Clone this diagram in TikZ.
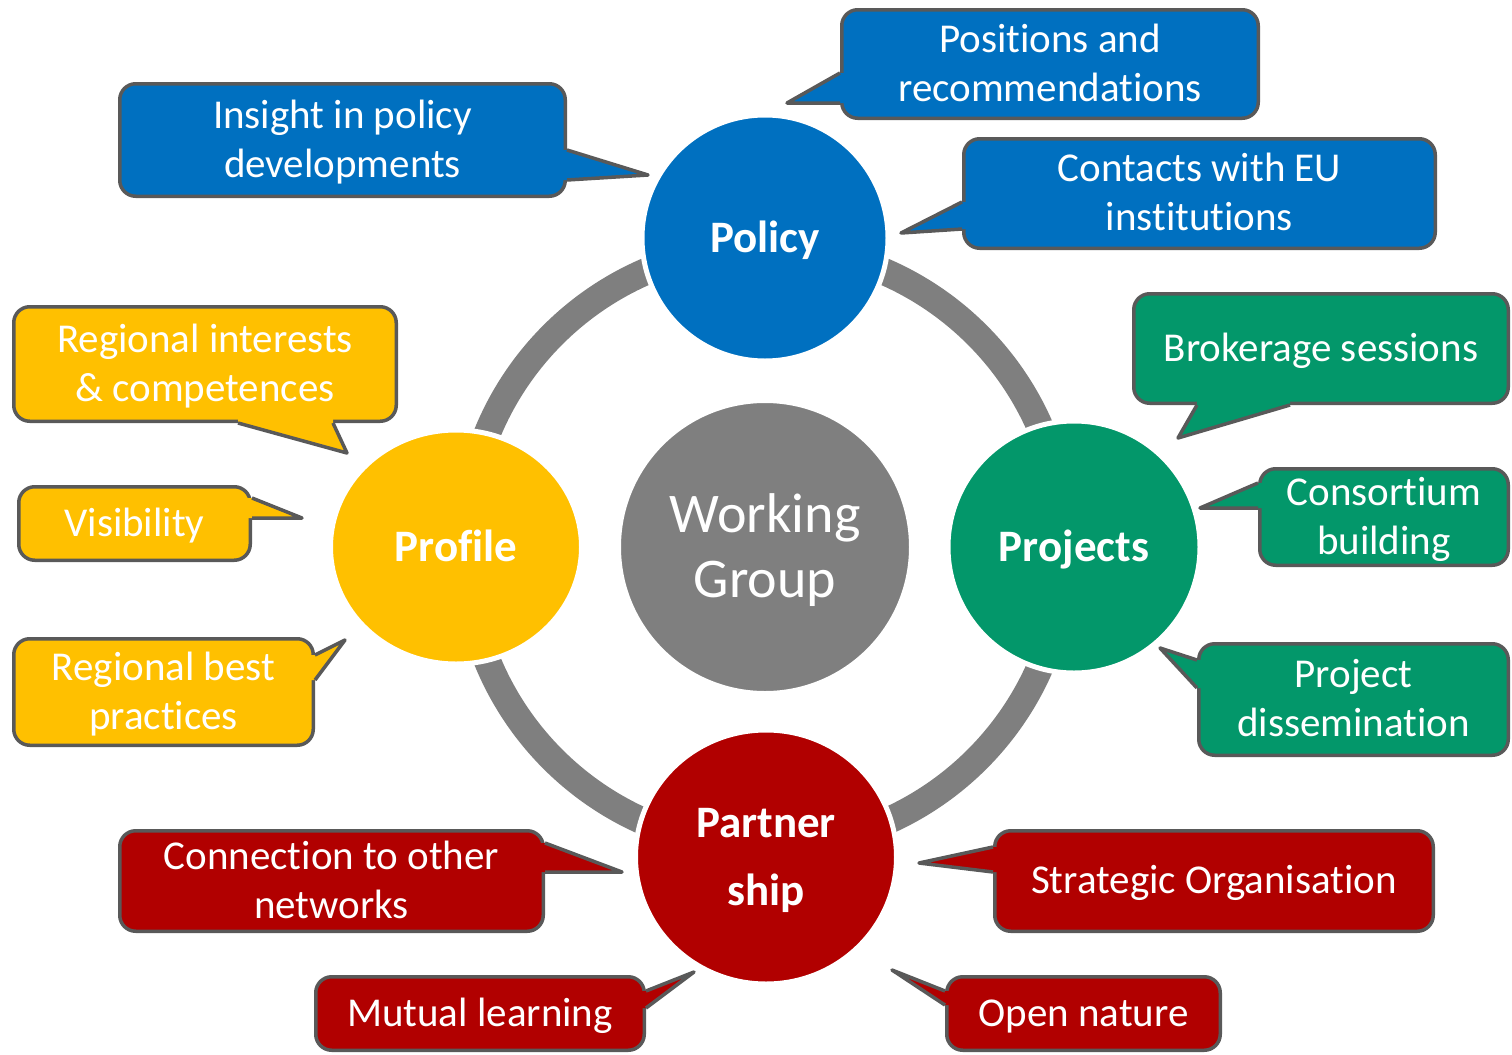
\documentclass[tikz,border=0pt]{standalone}
\usepackage{fontspec}
\setmainfont{Carlito}[Ligatures={NoCommon,NoContextual}]
\usetikzlibrary{shapes.geometric,calc}
\definecolor{cblue}{HTML}{0070C0}
\definecolor{cgreen}{HTML}{03976A}
\definecolor{cyellow}{HTML}{FFC000}
\definecolor{cred}{HTML}{B10000}
\definecolor{cgray}{HTML}{7F7F7F}
\definecolor{cbord}{HTML}{595959}
\newcommand\cs{\rule[-0.25em]{0pt}{1.132em}}
\newcommand\callptr[5]{%
  \fill[#1] ($(#2)+(#5)$) -- (#2) -- (#3) -- (#4) -- ($(#4)+(#5)$) -- cycle;
  \draw[ptr] (#2) -- (#3) -- (#4);}
\tikzset{
  cbox/.style={rectangle, rounded corners=8pt, draw=cbord, line width=1.75pt,
    inner sep=0pt, text=white, align=center,
    font=\fontsize{20.5}{24.5}\selectfont},
  ptr/.style={draw=cbord, line width=1.75pt, line join=round},
  hub/.style={circle, draw=white, line width=2.5pt, inner sep=0pt, text=white,
    align=center, font=\fontsize{22.5}{34}\selectfont\bfseries},
}
\begin{document}
\begin{tikzpicture}[x=0.5pt,y=-0.5pt]
\useasboundingbox (0,0) rectangle (1512,1055);
\fill[white] (0,0) rectangle (1512,1055);

% ring
\coordinate (ctr) at (765,547);
\draw[cgray, line width=13.5pt] (ctr) circle[radius=150pt];

% hubs
\node (wg) at (ctr) [circle, fill=cgray, draw=white, line width=2.5pt,
  minimum size=146.5pt, inner sep=0pt, text=white, align=center,
  font=\fontsize{28}{29.5}\selectfont] {\cs Working\\\cs Group};
\node (policy) at (765,238) [hub, fill=cblue, minimum size=123pt] {\cs Policy};
\node (projects) at (1074,547) [hub, fill=cgreen, minimum size=126pt] {\cs Projects};
\node (profile) at (456,547) [hub, ellipse, fill=cyellow, minimum width=125.5pt,
  minimum height=117pt] {\cs Profile};
\node (partner) at (766,857) [hub, ellipse, fill=cred, minimum width=130.5pt,
  minimum height=127pt] {\cs Partner\\\cs ship};

% Policy callouts
\node (pos) at (1050,64) [cbox, fill=cblue, minimum width=208.25pt,
  minimum height=54.25pt] {\cs Positions and\\\cs recommendations};
\coordinate (posT) at (787,103);
\callptr{cblue}{pos.west |- 0,73}{posT}{pos.west |- 0,103}{5,0}

\node (ins) at (342.5,140) [cbox, fill=cblue, minimum width=222.75pt,
  minimum height=56.25pt] {\cs Insight in policy\\\cs developments};
\coordinate (insT) at (648,175);
\callptr{cblue}{ins.east |- 0,150}{insT}{ins.east |- 0,180}{-5,0}

\node (eu) at (1199.5,193.5) [cbox, fill=cblue, minimum width=235.75pt,
  minimum height=54.75pt] {\cs Contacts with EU\\\cs institutions};
\coordinate (euT) at (901,233);
\callptr{cblue}{eu.west |- 0,202}{euT}{eu.west |- 0,229}{5,0}

% Profile callouts
\node (reg) at (205,364) [cbox, fill=cyellow, minimum width=191.25pt,
  minimum height=57.25pt] {\cs Regional interests\\\cs \& competences};
\coordinate (regT) at (347,453);
\callptr{cyellow}{reg.south -| 238,0}{regT}{reg.south -| 333,0}{0,-5}

\node (vis) at (134.5,523.5) [cbox, fill=cyellow, minimum width=115.75pt,
  minimum height=36.75pt] {\cs Visibility};
\coordinate (visT) at (302,518);
\callptr{cyellow}{vis.east |- 0,498}{visT}{vis.east |- 0,518}{-5,0}

\node (best) at (163.5,692) [cbox, fill=cyellow, minimum width=149.75pt,
  minimum height=53.25pt] {\cs Regional best\\\cs practices};
\coordinate (bestT) at (345,640);
\callptr{cyellow}{best.east |- 0,655}{bestT}{best.east |- 0,680}{-5,0}

% Projects callouts
\node (brok) at (1321,348.5) [cbox, fill=cgreen, minimum width=187.25pt,
  minimum height=54.75pt] {\cs Brokerage sessions};
\coordinate (brokT) at (1178,438);
\callptr{cgreen}{brok.south -| 1197,0}{brokT}{brok.south -| 1290,0}{0,-5}

\node (cons) at (1384,517) [cbox, fill=cgreen, minimum width=124.25pt,
  minimum height=48.25pt] {\cs Consortium\\\cs building};
\coordinate (consT) at (1200,508);
\callptr{cgreen}{cons.west |- 0,483}{consT}{cons.west |- 0,508}{5,0}

\node (diss) at (1353.5,699.5) [cbox, fill=cgreen, minimum width=154.75pt,
  minimum height=55.75pt] {\cs Project\\\cs dissemination};
\coordinate (dissT) at (1160,648);
\callptr{cgreen}{diss.west |- 0,660}{dissT}{diss.west |- 0,688}{5,0}

% Partnership callouts
\node (conn) at (331.5,881) [cbox, fill=cred, minimum width=211.75pt,
  minimum height=50.25pt] {\cs Connection to other\\\cs networks};
\coordinate (connT) at (622,872);
\callptr{cred}{conn.east |- 0,843}{connT}{conn.east |- 0,872}{-5,0}

\node (strat) at (1214,881) [cbox, fill=cred, minimum width=219.25pt,
  minimum height=50.25pt] {\cs Strategic Organisation};
\coordinate (stratT) at (919,863);
\callptr{cred}{strat.west |- 0,847}{stratT}{strat.west |- 0,872}{5,0}

\node (mut) at (480,1013.5) [cbox, fill=cred, minimum width=164.25pt,
  minimum height=36.75pt] {\cs Mutual learning};
\coordinate (mutT) at (694,972);
\callptr{cred}{mut.east |- 0,991}{mutT}{mut.east |- 0,1008}{-5,0}

\node (opn) at (1083.5,1013.5) [cbox, fill=cred, minimum width=136.75pt,
  minimum height=36.75pt] {\cs Open nature};
\coordinate (opnT) at (892,970);
\callptr{cred}{opn.west |- 0,991}{opnT}{opn.west |- 0,1005}{5,0}
\end{tikzpicture}
\end{document}
